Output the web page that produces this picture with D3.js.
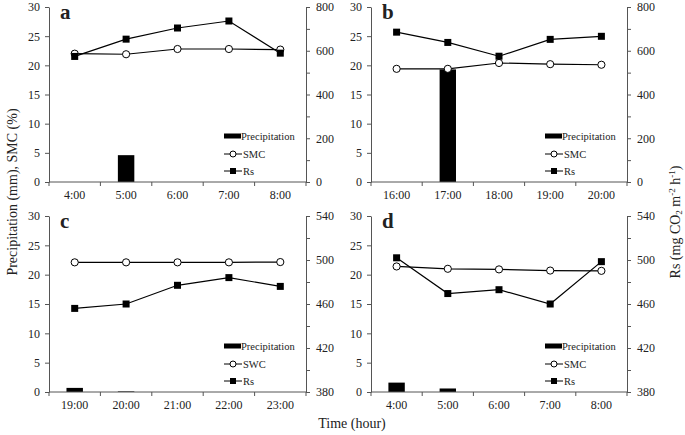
<!DOCTYPE html>
<html>
<head>
<meta charset="utf-8">
<script src="https://cdn.jsdelivr.net/npm/d3@7"></script>
<style>
  body { margin: 0; background: #fff; }
  svg text { font-family: "Liberation Serif", "Times New Roman", serif; fill: #222; }
</style>
</head>
<body>
<div id="chart"></div>
<script>
// data
var timesA = ["4:00", "5:00", "6:00", "7:00", "8:00"];
var precipA = [0, 4.6, 0, 0, 0];
var smcA = [22.0, 21.9, 22.8, 22.8, 22.7];
var rsA = [574, 653, 704, 736, 589];

var timesB = ["16:00", "17:00", "18:00", "19:00", "20:00"];
var precipB = [0, 19.3, 0, 0, 0];
var smcB = [19.4, 19.4, 20.4, 20.2, 20.1];
var rsB = [685, 638, 575, 652, 666];

var timesC = ["19:00", "20:00", "21:00", "22:00", "23:00"];
var precipC = [0.7, 0.1, 0, 0, 0];
var smcC = [22.1, 22.1, 22.1, 22.1, 22.15];
var rsC = [456, 460, 477, 484, 476];

var timesD = ["4:00", "5:00", "6:00", "7:00", "8:00"];
var precipD = [1.6, 0.6, 0, 0, 0];
var smcD = [21.4, 21.0, 20.9, 20.7, 20.65];
var rsD = [502, 469.5, 473, 460, 498.5];

var leftTicks = [0, 5, 10, 15, 20, 25, 30];
var rsTicksTop = [0, 200, 400, 600, 800];
var rsTicksBottom = [380, 420, 460, 500, 540];

var panels = [
  { id: "a", x0: 49, x1: 306, y0: 7, y1: 182, times: timesA, precip: precipA, smc: smcA, rs: rsA,
    rsDomain: [0, 800], rsTicks: rsTicksTop, rsMinor: 100, water: "SMC" },
  { id: "b", x0: 371, x1: 627, y0: 7, y1: 182, times: timesB, precip: precipB, smc: smcB, rs: rsB,
    rsDomain: [0, 800], rsTicks: rsTicksTop, rsMinor: 100, water: "SMC" },
  { id: "c", x0: 49, x1: 306, y0: 216, y1: 392, times: timesC, precip: precipC, smc: smcC, rs: rsC,
    rsDomain: [380, 540], rsTicks: rsTicksBottom, rsMinor: 20, water: "SWC" },
  { id: "d", x0: 371, x1: 627, y0: 216, y1: 392, times: timesD, precip: precipD, smc: smcD, rs: rsD,
    rsDomain: [380, 540], rsTicks: rsTicksBottom, rsMinor: 20, water: "SMC" }
];

var svg = d3.select("#chart").append("svg")
    .attr("width", 685)
    .attr("height", 435);

var axisColor = "#555";

panels.forEach(function(p) {
  var g = svg.append("g");

  var x = d3.scaleBand().domain(p.times).range([p.x0, p.x1]);
  var y = d3.scaleLinear().domain([0, 30]).range([p.y1, p.y0]);
  var yr = d3.scaleLinear().domain(p.rsDomain).range([p.y1, p.y0]);

  // precipitation bars
  var bw = x.bandwidth() * 0.32;
  g.selectAll(".bar")
    .data(p.precip.map(function(v, i) { return { t: p.times[i], v: v }; }).filter(function(d) { return d.v > 0; }))
    .enter().append("rect")
    .attr("x", function(d) { return x(d.t) + x.bandwidth() / 2 - bw / 2; })
    .attr("y", function(d) { return y(d.v); })
    .attr("width", bw)
    .attr("height", function(d) { return y(0) - y(d.v); })
    .attr("fill", "#000");

  // x axis: ticks at band edges
  var xa = g.append("g").attr("transform", "translate(0," + p.y1 + ")");
  xa.append("line").attr("x1", p.x0).attr("x2", p.x1).attr("stroke", axisColor);
  var edges = d3.range(p.times.length + 1).map(function(i) { return p.x0 + i * x.bandwidth(); });
  xa.selectAll(".edge").data(edges).enter().append("line")
    .attr("x1", function(d) { return d; }).attr("x2", function(d) { return d; })
    .attr("y1", 0).attr("y2", 4).attr("stroke", axisColor);
  xa.selectAll(".lbl").data(p.times).enter().append("text")
    .attr("x", function(d) { return x(d) + x.bandwidth() / 2; })
    .attr("y", 17)
    .attr("text-anchor", "middle")
    .attr("font-size", 12)
    .text(function(d) { return d; });

  // left axis
  var yAxis = d3.axisLeft(y).tickValues(leftTicks).tickSize(4).tickSizeOuter(0).tickPadding(5);
  var ya = g.append("g").attr("transform", "translate(" + p.x0 + ",0)").call(yAxis);
  ya.select(".domain").attr("stroke", axisColor);
  ya.selectAll(".tick line").attr("stroke", axisColor);
  ya.selectAll(".tick text").attr("font-size", 12).attr("font-family", "Liberation Serif").attr("fill", "#222");

  // right axis, with minor ticks
  var minor = d3.range(p.rsDomain[0], p.rsDomain[1] + 0.1, p.rsMinor)
    .filter(function(v) { return p.rsTicks.indexOf(v) < 0; });
  var yrMinor = d3.axisRight(yr).tickValues(minor).tickSize(4).tickSizeOuter(0).tickFormat("");
  var yrm = g.append("g").attr("transform", "translate(" + p.x1 + ",0)").call(yrMinor);
  yrm.select(".domain").remove();
  yrm.selectAll(".tick line").attr("stroke", axisColor);
  var yrAxis = d3.axisRight(yr).tickValues(p.rsTicks).tickSize(4).tickSizeOuter(0).tickPadding(6);
  var yra = g.append("g").attr("transform", "translate(" + p.x1 + ",0)").call(yrAxis);
  yra.select(".domain").attr("stroke", axisColor);
  yra.selectAll(".tick line").attr("stroke", axisColor);
  yra.selectAll(".tick text").attr("font-size", 12).attr("font-family", "Liberation Serif").attr("fill", "#222");

  var cx = function(t) { return x(t) + x.bandwidth() / 2; };

  // SMC / SWC line
  var smcLine = d3.line().x(function(d, i) { return cx(p.times[i]); }).y(function(d) { return y(d); });
  g.append("path").datum(p.smc).attr("d", smcLine)
    .attr("fill", "none").attr("stroke", "#000").attr("stroke-width", 1.2);

  // Rs line
  var rsLine = d3.line().x(function(d, i) { return cx(p.times[i]); }).y(function(d) { return yr(d); });
  g.append("path").datum(p.rs).attr("d", rsLine)
    .attr("fill", "none").attr("stroke", "#000").attr("stroke-width", 1.2);

  g.selectAll(".smcpt").data(p.smc).enter().append("circle")
    .attr("cx", function(d, i) { return cx(p.times[i]); })
    .attr("cy", function(d) { return y(d); })
    .attr("r", 3.6)
    .attr("fill", "#fff").attr("stroke", "#000").attr("stroke-width", 1);

  g.selectAll(".rspt").data(p.rs).enter().append("rect")
    .attr("x", function(d, i) { return cx(p.times[i]) - 3.5; })
    .attr("y", function(d) { return yr(d) - 3.5; })
    .attr("width", 7).attr("height", 7)
    .attr("fill", "#000");

  // panel letter
  g.append("text")
    .attr("x", p.x0 + 11)
    .attr("y", p.y0 + 12)
    .attr("font-size", 21)
    .attr("font-weight", "bold")
    .attr("fill", "#000")
    .text(p.id);

  // legend
  var lx = p.x1 - 82;
  var lg = g.append("g");
  lg.append("rect").attr("x", lx).attr("y", p.y1 - 48.5).attr("width", 17).attr("height", 5).attr("fill", "#000");
  lg.append("text").attr("x", lx + 17).attr("y", p.y1 - 42.5).attr("font-size", 10.5).text("Precipitation");

  lg.append("line").attr("x1", lx).attr("x2", lx + 18).attr("y1", p.y1 - 28).attr("y2", p.y1 - 28)
    .attr("stroke", "#000").attr("stroke-width", 1);
  lg.append("circle").attr("cx", lx + 9).attr("cy", p.y1 - 28).attr("r", 3)
    .attr("fill", "#fff").attr("stroke", "#000");
  lg.append("text").attr("x", lx + 19).attr("y", p.y1 - 24.5).attr("font-size", 10.5).text(p.water);

  lg.append("line").attr("x1", lx).attr("x2", lx + 18).attr("y1", p.y1 - 11).attr("y2", p.y1 - 11)
    .attr("stroke", "#000").attr("stroke-width", 1);
  lg.append("rect").attr("x", lx + 6).attr("y", p.y1 - 14).attr("width", 6).attr("height", 6).attr("fill", "#000");
  lg.append("text").attr("x", lx + 19).attr("y", p.y1 - 7.5).attr("font-size", 10.5).text("Rs");
});

// axis titles
svg.append("text")
  .attr("transform", "translate(17,192) rotate(-90)")
  .attr("text-anchor", "middle")
  .attr("font-size", 14)
  .text("Precipitation (mm), SMC (%)");

var rt = svg.append("text")
  .attr("transform", "translate(680,222) rotate(-90)")
  .attr("text-anchor", "middle")
  .attr("font-size", 14);
rt.append("tspan").text("Rs (mg CO");
rt.append("tspan").attr("font-size", 9).attr("dy", 2).text("2");
rt.append("tspan").attr("dy", -2).text(" m");
rt.append("tspan").attr("font-size", 9).attr("dy", -5).text("-2");
rt.append("tspan").attr("dy", 5).text(" h");
rt.append("tspan").attr("font-size", 9).attr("dy", -5).text("-1");
rt.append("tspan").attr("dy", 5).text(")");

svg.append("text")
  .attr("x", 352)
  .attr("y", 428)
  .attr("text-anchor", "middle")
  .attr("font-size", 14)
  .text("Time (hour)");
</script>
</body>
</html>
